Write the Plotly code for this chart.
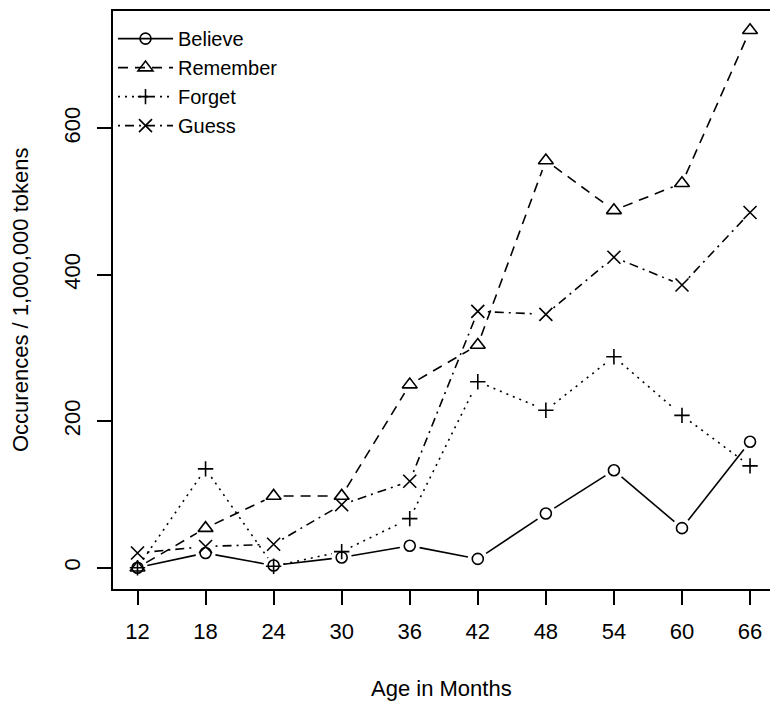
import plotly.graph_objects as go

months = [12, 18, 24, 30, 36, 42, 48, 54, 60, 66]
believe = [0, 20, 3, 14, 30, 12, 74, 133, 54, 172]
remember = [0, 54, 98, 98, 250, 304, 556, 488, 525, 734]
forget = [0, 135, 2, 22, 67, 254, 215, 288, 208, 139]
guess = [20, 29, 32, 86, 118, 350, 346, 424, 386, 485]

x_ticks = [12, 18, 24, 30, 36, 42, 48, 54, 60, 66]
y_ticks = [0, 200, 400, 600]

W, H = 770, 701
ML, MR, MT, MB = 113, 0, 11, 112
XR = [9.84, 67.76]
YR = [-29.1, 760.2]
FONT = "Liberation Sans, Arial, Helvetica, sans-serif"

pw = W - ML - MR
ph = H - MT - MB
sx = pw / (XR[1] - XR[0])
sy = ph / (YR[1] - YR[0])
GAP = 10.0


def gapped(xs, ys):
    ox, oy = [], []
    for i in range(len(xs) - 1):
        x1, y1, x2, y2 = xs[i], ys[i], xs[i + 1], ys[i + 1]
        dx, dy = (x2 - x1) * sx, (y2 - y1) * sy
        d = (dx * dx + dy * dy) ** 0.5
        if d <= 2 * GAP:
            continue
        f = GAP / d
        ox += [x1 + (x2 - x1) * f, x2 - (x2 - x1) * f, None]
        oy += [y1 + (y2 - y1) * f, y2 - (y2 - y1) * f, None]
    return ox, oy


series = [
    ("Believe", believe, "solid", "circle-open", 11),
    ("Remember", remember, "10px,7px", "triangle-up-open", 13),
    ("Forget", forget, "2px,5px", "cross-thin-open", 11),
    ("Guess", guess, "2px,5px,9px,5px", "x-thin-open", 13),
]

fig = go.Figure()
for name, vals, dash, sym, size in series:
    gx, gy = gapped(months, vals)
    fig.add_trace(go.Scatter(x=gx, y=gy, mode="lines", showlegend=False,
                             line=dict(color="black", width=1.6, dash=dash),
                             hoverinfo="skip"))
    fig.add_trace(go.Scatter(x=months, y=vals, mode="markers", showlegend=False, name=name,
                             marker=dict(symbol=sym, size=size, color="black",
                                         line=dict(color="black", width=1.6))))
for name, vals, dash, sym, size in series:
    fig.add_trace(go.Scatter(x=[None], y=[None], mode="lines+markers", name=name,
                             line=dict(color="black", width=1.6, dash=dash),
                             marker=dict(symbol=sym, size=size, color="black",
                                         line=dict(color="black", width=1.6))))

axis_common = dict(showline=True, linecolor="black", linewidth=1.5,
                   ticks="outside", ticklen=14, tickwidth=1.5, tickcolor="black",
                   showgrid=False, zeroline=False,
                   tickfont=dict(family=FONT, size=22, color="black"))

fig.update_layout(
    width=W, height=H,
    margin=dict(l=ML, r=MR, t=MT, b=MB, pad=0),
    paper_bgcolor="white", plot_bgcolor="white",
    font=dict(family=FONT, size=22, color="black"),
    xaxis=dict(range=XR, tickmode="array", tickvals=x_ticks, mirror=True,
               ticktext=[str(v) for v in x_ticks], ticklabelstandoff=8, **axis_common),
    yaxis=dict(range=YR, tickmode="array", tickvals=y_ticks, mirror=False,
               ticktext=[str(v) for v in y_ticks], tickangle=-90, ticklabelstandoff=8,
               **axis_common),
    legend=dict(x=0.0, y=0.986, xanchor="left", yanchor="top",
                bgcolor="rgba(0,0,0,0)", borderwidth=0,
                font=dict(family=FONT, size=20, color="black"),
                itemwidth=55, tracegroupgap=0),
    annotations=[
        dict(text="Age in Months", xref="paper", yref="paper", x=0.5,
             y=-(688 - (H - MB)) / ph,
             xanchor="center", yanchor="middle", showarrow=False,
             font=dict(family=FONT, size=22, color="black")),
        dict(text="Occurences / 1,000,000 tokens", xref="paper", yref="paper",
             x=(20 - ML) / pw, y=0.5, textangle=-90, xanchor="center", yanchor="middle",
             showarrow=False, font=dict(family=FONT, size=22, color="black")),
    ],
)

fig.write_html("out.html", config={"displayModeBar": False},
               post_script="document.body.style.margin='0px';document.body.style.overflow='hidden';")
